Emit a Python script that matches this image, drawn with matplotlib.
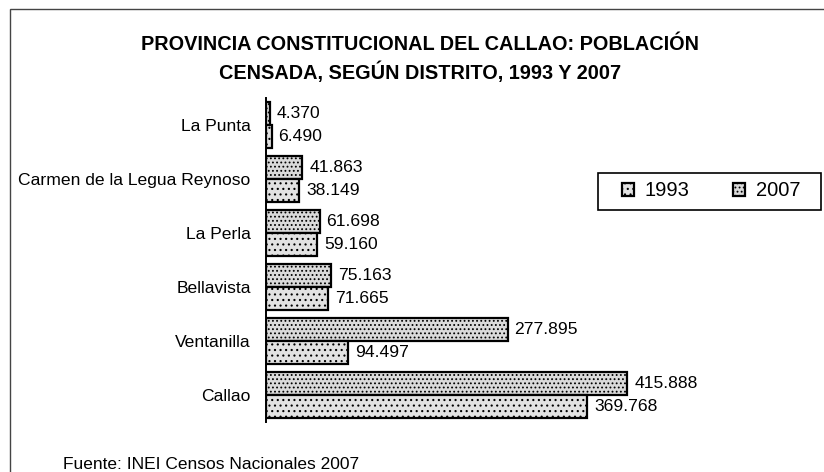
import numpy as np
import matplotlib.pyplot as plt
from matplotlib.patches import Rectangle

plt.rcParams["font.family"] = ["Liberation Sans", "DejaVu Sans"]
plt.rcParams["hatch.color"] = "#7a7a7a"
plt.rcParams["hatch.linewidth"] = 0.8

districts = ["La Punta", "Carmen de la Legua Reynoso", "La Perla",
             "Bellavista", "Ventanilla", "Callao"]
pop_2007 = [4370, 41863, 61698, 75163, 277895, 415888]
pop_1993 = [6490, 38149, 59160, 71665, 94497, 369768]

fig = plt.figure(figsize=(8.24, 4.72), dpi=100)
ax = fig.add_axes([0.3228, 0.106, 0.52, 0.686])

y = np.arange(len(districts))
h = 0.42


def fmt(v):
    return f"{v:,}".replace(",", ".")


b07 = ax.barh(y - h / 2, pop_2007, height=h, color="#dadada",
              edgecolor="black", linewidth=1.6, hatch="....", label="2007")
b93 = ax.barh(y + h / 2, pop_1993, height=h, color="#e2e2e2",
              edgecolor="black", linewidth=1.6, hatch="...", label="1993")

ax.bar_label(b07, labels=[fmt(v) for v in pop_2007], padding=5, fontsize=12.6)
ax.bar_label(b93, labels=[fmt(v) for v in pop_1993], padding=5, fontsize=12.6)

ax.set_xlim(0, 493000)
ax.set_ylim(len(districts) - 0.5, -0.5)
ax.set_yticks(y)
ax.set_yticklabels(districts, fontsize=12.6)
ax.tick_params(axis="y", length=0, pad=11)
ax.set_xticks([])
for s in ["top", "right", "bottom"]:
    ax.spines[s].set_visible(False)
ax.spines["left"].set_linewidth(1.4)

# legend with its own box
fig.add_artist(Rectangle((598 / 824, 1 - 210 / 472), 223 / 824, 37 / 472,
                         transform=fig.transFigure, fill=False,
                         edgecolor="black", linewidth=1.2))
fig.legend([b93, b07], ["1993", "2007"], loc="center left",
           bbox_to_anchor=(612 / 824, 1 - 191 / 472), ncol=2, fontsize=14.5,
           frameon=False, handlelength=0.6, handleheight=0.6,
           columnspacing=2.2, handletextpad=0.5, borderpad=0.0)

fig.text(0.51, 1 - 45 / 472, "PROVINCIA CONSTITUCIONAL DEL CALLAO: POBLACIÓN",
         ha="center", va="center", fontsize=14.3, fontweight="bold")
fig.text(0.51, 1 - 72 / 472, "CENSADA, SEGÚN DISTRITO, 1993 Y 2007",
         ha="center", va="center", fontsize=14.3, fontweight="bold")

fig.text(63 / 824, 3 / 472, "Fuente: INEI Censos Nacionales 2007",
         fontsize=12.5, ha="left", va="baseline")

# scanned page border
fig.add_artist(Rectangle((10 / 824, -0.1), 1.2, 1.081, transform=fig.transFigure,
                         fill=False, edgecolor="#444444", linewidth=1.0))

fig.savefig("out.png", dpi=100)
